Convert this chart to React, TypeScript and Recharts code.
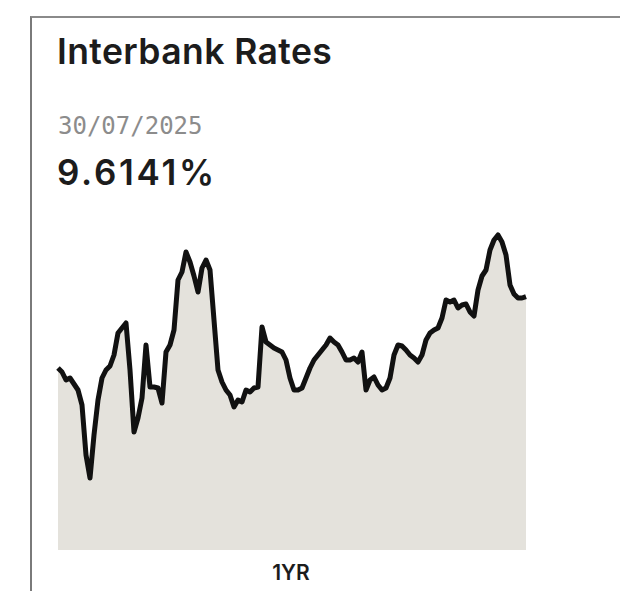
import { AreaChart, Area, XAxis, YAxis } from "recharts";

// daily interbank rate, last 12 months (%)
const rates = [
  8.90, 8.86, 8.78, 8.80, 8.74, 8.68, 8.53, 8.03, 7.80, 8.23,
  8.58, 8.80, 8.88, 8.92, 9.03, 9.25, 9.30, 9.35, 8.88, 8.26,
  8.40, 8.60, 9.13, 8.71, 8.71, 8.70, 8.55, 9.06, 9.13, 9.28,
  9.78, 9.86, 10.06, 9.96, 9.82, 9.66, 9.90, 9.98, 9.88, 9.38,
  8.88, 8.76, 8.68, 8.63, 8.51, 8.58, 8.56, 8.68, 8.66, 8.70,
  8.71, 9.31, 9.16, 9.13, 9.10, 9.08, 9.06, 8.98, 8.80, 8.68,
  8.68, 8.70, 8.80, 8.90, 8.98, 9.03, 9.08, 9.13, 9.20, 9.16,
  9.13, 9.06, 8.98, 8.98, 9.00, 8.96, 9.06, 8.68, 8.78, 8.81,
  8.73, 8.68, 8.70, 8.80, 9.03, 9.13, 9.12, 9.08, 9.03, 9.00,
  8.96, 9.03, 9.18, 9.25, 9.28, 9.30, 9.40, 9.58, 9.56, 9.58,
  9.50, 9.53, 9.54, 9.46, 9.42, 9.68, 9.82, 9.88, 10.08, 10.18,
  10.23, 10.16, 10.03, 9.73, 9.64, 9.60, 9.60, 9.6141,
];

const title = "Interbank Rates";
const lastDate = "30/07/2025";
const lastValue = "9.6141%";
const rangeLabel = "1YR";

export default function App() {
  const data = rates.map((v, i) => ({ i, v }));
  return (
    <div
      style={{
        position: "absolute", left: 0, top: 0, width: 620, height: 591,
        background: "#fff", overflow: "hidden", fontFamily: "Inter, sans-serif",
      }}
    >
      {/* card frame */}
      <div
        style={{
          position: "absolute", left: 30, top: 16, width: 700, height: 700,
          borderTop: "2px solid #8a8a8a", borderLeft: "2px solid #7a7a7a",
        }}
      />
      <div style={{ position: "absolute", left: 57, top: 34, fontSize: 35.5, lineHeight: 1, fontWeight: 600, letterSpacing: 0.4, color: "#1c1c1c", whiteSpace: "nowrap" }}>
        {title}
      </div>
      <div style={{ position: "absolute", left: 58, top: 114, fontSize: 24, lineHeight: 1, fontFamily: "'DejaVu Sans Mono', monospace", color: "#8c8c8c" }}>
        {lastDate}
      </div>
      <div style={{ position: "absolute", left: 57, top: 155, fontSize: 35, lineHeight: 1, fontWeight: 600, letterSpacing: 2.7, color: "#1c1c1c" }}>
        {lastValue}
      </div>

      <div style={{ position: "absolute", left: 53, top: 210 }}>
        <AreaChart width={478} height={345} data={data} margin={{ top: 10, right: 5, bottom: 5, left: 5 }}>
          <XAxis dataKey="i" hide />
          <YAxis domain={[7.08, 10.38]} hide />
          <Area
            type="linear"
            dataKey="v"
            stroke="#111"
            strokeWidth={5}
            strokeLinejoin="round"
            fill="#e4e2dc"
            fillOpacity={1}
            dot={false}
            activeDot={false}
            isAnimationActive={false}
          />
        </AreaChart>
      </div>

      <div style={{ position: "absolute", left: 241, width: 100, top: 562, textAlign: "center", fontSize: 21, lineHeight: 1, fontWeight: 600, color: "#1c1c1c" }}>
        {rangeLabel}
      </div>
    </div>
  );
}
